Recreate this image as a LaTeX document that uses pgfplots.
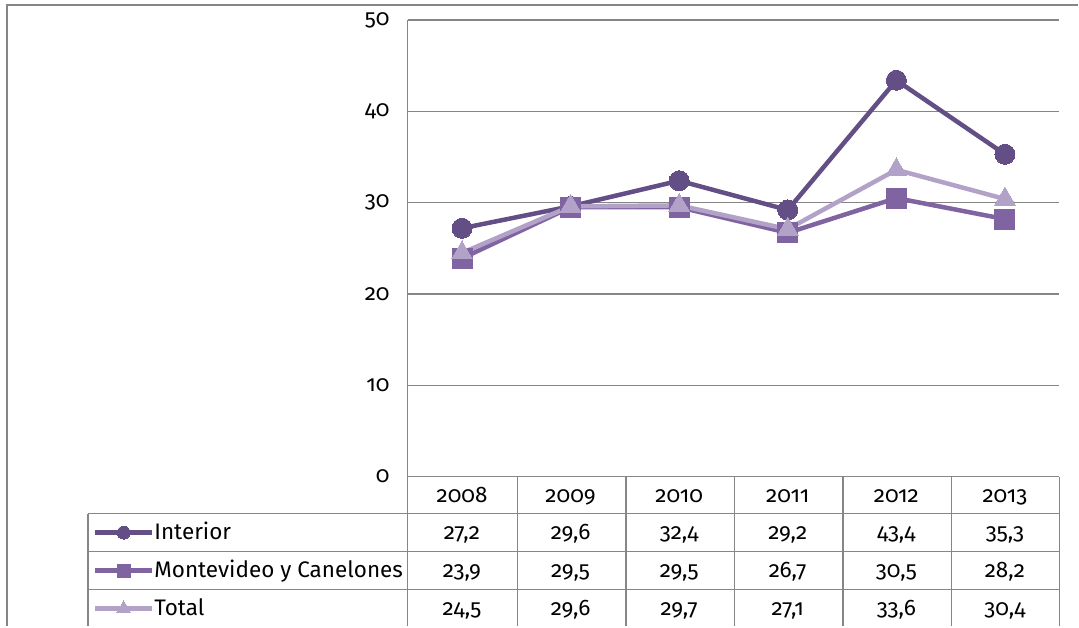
\documentclass[border=0pt]{standalone}
\usepackage{pgfplots}
\pgfplotsset{compat=1.18}
\usepackage{fontspec}
\setmainfont{Fira Sans}[Numbers=OldStyle]
\definecolor{cint}{RGB}{99,78,134}
\definecolor{cmon}{RGB}{128,100,162}
\definecolor{ctot}{RGB}{179,162,199}
\definecolor{gridc}{RGB}{134,134,134}
\begin{document}
\fontsize{22.5}{26}\selectfont
\begin{tikzpicture}
\begin{scope}[x=1pt,y=-1pt]
\useasboundingbox (0,0) rectangle (1079,626);
\end{scope}
\begin{axis}[
  at={(408pt,-477pt)}, anchor=south west,
  scale only axis, width=652pt, height=457pt,
  xmin=-0.5, xmax=5.5, ymin=0, ymax=50,
  ytick={0,10,20,30,40,50},
  xtick={0,1,2,3,4,5},
  xticklabels={2008,2009,2010,2011,2012,2013},
  ymajorgrids, major grid style={draw=gridc, line width=1.5pt},
  axis line style={draw=none},
  major tick length=0pt,
  clip=false,
  /pgf/number format/assume math mode=true,
  tick label style={inner sep=0pt, font=\fontsize{22.5}{26}\selectfont},
  yticklabel style={anchor=east, xshift=-18pt},
  xticklabel style={anchor=base, yshift=-26pt},
  legend style={at={(axis description cs:-0.4831,-0.08096)}, anchor=north west,
    draw=none, fill=none, inner sep=0pt, outer sep=0pt, row sep=0pt,
    nodes={inner sep=0pt, text height=26pt, text depth=12pt},
    font=\fontsize{22.5}{26}\selectfont,
    /tikz/every even column/.append style={column sep=3pt}},
  legend cell align=left,
  legend image code/.code={\draw[mark repeat=2,mark phase=2,#1,every mark/.append style={scale=0.65}] plot coordinates {(0pt,0pt) (28.5pt,0pt) (57pt,0pt)};},
]
\addplot[color=cint, line width=4.5pt, mark=*, mark size=10pt, mark options={fill=cint, draw=cint, line width=0pt}] coordinates {(0,27.2) (1,29.6) (2,32.4) (3,29.2) (4,43.4) (5,35.3)};
\addlegendentry{Interior}
\addplot[color=cmon, line width=4.5pt, mark=square*, mark size=10pt, mark options={fill=cmon, draw=cmon, line width=0pt}] coordinates {(0,23.9) (1,29.5) (2,29.5) (3,26.7) (4,30.5) (5,28.2)};
\addlegendentry{Montevideo y Canelones}
\addplot[color=ctot, line width=4.5pt, mark=triangle*, mark size=12pt, mark options={fill=ctot, draw=ctot, line width=0pt}] coordinates {(0,24.5) (1,29.6) (2,29.7) (3,27.1) (4,33.6) (5,30.4)};
\addlegendentry{Total}
\end{axis}
\begin{scope}[x=1pt,y=-1pt]
\draw[gridc, line width=1.5pt] (408,20) -- (408,626);
\foreach \xx in {517.7,626.3,735,843.7,952.3,1060} \draw[gridc, line width=1.5pt] (\xx,477) -- (\xx,626);
\draw[gridc, line width=1.5pt] (88,514) -- (88,626);
\foreach \yy in {514,552,590} \draw[gridc, line width=1.5pt] (88,\yy) -- (1060,\yy);
\draw[gridc, line width=1.5pt] (7,626) -- (7,5) -- (1079,5);
\foreach \v [count=\i from 0] in {{27,2},{29,6},{32,4},{29,2},{43,4},{35,3}} \node[anchor=base, inner sep=0pt] at (462.3+108.67*\i,540) {\v};
\foreach \v [count=\i from 0] in {{23,9},{29,5},{29,5},{26,7},{30,5},{28,2}} \node[anchor=base, inner sep=0pt] at (462.3+108.67*\i,578) {\v};
\foreach \v [count=\i from 0] in {{24,5},{29,6},{29,7},{27,1},{33,6},{30,4}} \node[anchor=base, inner sep=0pt] at (462.3+108.67*\i,616) {\v};
\end{scope}
\end{tikzpicture}
\end{document}
